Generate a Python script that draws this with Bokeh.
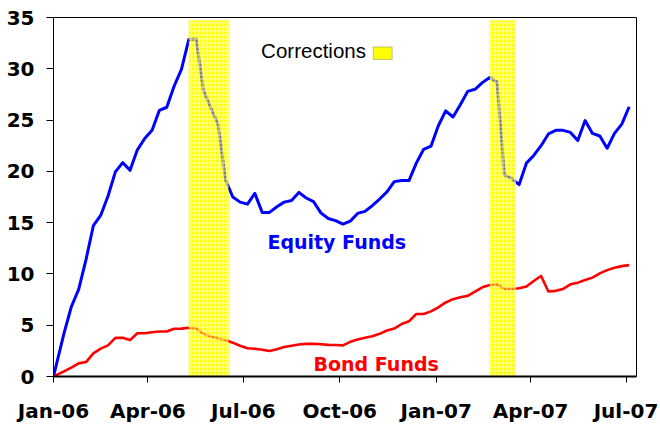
import pandas as pd
from bokeh.plotting import figure
from bokeh.models import (Range1d, FixedTicker, ColumnDataSource, Label,
                          BoxAnnotation, DatetimeTickFormatter)
from bokeh.embed import file_html
from bokeh.resources import INLINE

# ---- data -------------------------------------------------------------
start_date = "2006-01-01"          # series origin (cumulative flows = 0)
first_week = "2006-01-11"          # first weekly observation (Wednesday)
n_weeks = 78

equity = [0.0,
          4.2, 6.8, 8.5, 11.4, 14.7, 15.7, 17.6, 19.95, 20.85, 20.1,
          22.1, 23.2, 24.0, 25.95, 26.25, 28.3, 29.95, 32.85, 32.9, 27.9,
          26.2, 24.55, 19.2, 17.5, 17.0, 16.8, 17.85, 16.0, 16.0, 16.55,
          17.0, 17.15, 17.95, 17.4, 17.05, 15.95, 15.4, 15.2, 14.85, 15.15,
          15.9, 16.1, 16.65, 17.3, 18.0, 19.0, 19.1, 19.1, 20.8, 22.15,
          22.45, 24.45, 25.9, 25.3, 26.5, 27.8, 28.0, 28.65, 29.15, 28.7,
          19.65, 19.3, 18.7, 20.8, 21.55, 22.5, 23.65, 24.0, 24.0, 23.8,
          23.0, 24.95, 23.7, 23.45, 22.25, 23.7, 24.6, 26.3]

bond = [0.0,
        0.5, 0.87, 1.28, 1.41, 2.25, 2.72, 3.03, 3.77, 3.77, 3.55,
        4.22, 4.22, 4.32, 4.38, 4.38, 4.65, 4.67, 4.75, 4.7, 4.15,
        3.9, 3.7, 3.55, 3.3, 3.0, 2.75, 2.7, 2.6, 2.48, 2.65,
        2.88, 3.0, 3.12, 3.18, 3.19, 3.15, 3.08, 3.07, 3.03, 3.38,
        3.6, 3.77, 3.93, 4.16, 4.48, 4.67, 5.12, 5.38, 6.09, 6.09,
        6.35, 6.74, 7.22, 7.54, 7.73, 7.86, 8.28, 8.7, 8.92, 8.99,
        8.54, 8.54, 8.6, 8.77, 9.31, 9.8, 8.28, 8.35, 8.54, 8.99,
        9.15, 9.41, 9.64, 10.05, 10.37, 10.6, 10.76, 10.86]

band_start = ["2006-05-10", "2007-02-21"]
band_end = ["2006-06-17", "2007-03-18"]
band_top = [34.7, 34.7]

tick_dates = ["2006-01-01", "2006-04-01", "2006-07-01", "2006-10-01",
              "2007-01-01", "2007-04-01", "2007-07-01"]
tick_labels = ["Jan-06", "Apr-06", "Jul-06", "Oct-06", "Jan-07", "Apr-07", "Jul-07"]
y_ticks = [0, 5, 10, 15, 20, 25, 30, 35]

x_start, x_end = "2006-01-01", "2007-07-11"


def ms(d):
    return int(pd.Timestamp(d).timestamp() * 1000)


dates = [pd.Timestamp(start_date)] + list(pd.date_range(first_week, periods=n_weeks, freq="7D"))
src = ColumnDataSource(dict(date=dates, equity=equity, bond=bond))
band_src = ColumnDataSource(dict(left=pd.to_datetime(band_start), right=pd.to_datetime(band_end),
                                 top=band_top, bottom=[0] * len(band_top)))

FONT = "DejaVu Sans"

p = figure(width=660, height=425, x_axis_type="datetime", output_backend="svg",
           toolbar_location=None,
           x_range=Range1d(ms(x_start), ms(x_end)), y_range=Range1d(0, 35),
           min_border_left=53, min_border_right=24, min_border_top=17, min_border_bottom=46)

p.background_fill_color = "white"
p.border_fill_color = "white"
p.outline_line_color = "black"
p.outline_line_width = 1
p.xgrid.visible = False
p.ygrid.visible = False

# correction bands (under the lines)
p.quad(left="left", right="right", top="top", bottom="bottom", source=band_src,
       fill_color="#ffff00", fill_alpha=1.0, line_color=None,
       hatch_pattern="+", hatch_color="#ffffa8", hatch_scale=4, hatch_weight=1, hatch_alpha=1.0)

p.line("date", "equity", source=src, line_color="#0000ff", line_width=3, line_join="round")
p.line("date", "bond", source=src, line_color="#ff0000", line_width=2.6, line_join="round")

# translucent band overlay (lines appear grey / orange inside the corrections)
p.quad(left="left", right="right", top="top", bottom="bottom", source=band_src,
       fill_color="#ffff00", fill_alpha=0.5, line_color=None,
       hatch_pattern="+", hatch_color="#ffffa8", hatch_scale=4, hatch_weight=1, hatch_alpha=0.7)

# axes
for ax in (p.xaxis, p.yaxis):
    ax.axis_line_color = "black"
    ax.major_tick_line_color = "black"
    ax.minor_tick_line_color = None
    ax.major_tick_in = 0
    ax.major_label_text_font = FONT
    ax.major_label_text_font_size = "20px"
    ax.major_label_text_font_style = "bold"
    ax.major_label_text_color = "black"

p.xaxis.ticker = FixedTicker(ticks=[ms(d) for d in tick_dates])
p.xaxis.formatter = DatetimeTickFormatter(days="%b-%y", months="%b-%y", years="%b-%y")
p.xaxis.major_label_overrides = {ms(d): lab for d, lab in zip(tick_dates, tick_labels)}
p.xaxis.axis_line_width = 2
p.xaxis.major_tick_out = 6
p.xaxis.major_label_standoff = 16

p.yaxis.ticker = FixedTicker(ticks=y_ticks)
p.yaxis.major_tick_out = 7
p.yaxis.major_label_standoff = 12

# annotations
p.add_layout(Label(x=ms("2006-07-24"), y=13.1, text="Equity Funds", text_font=FONT,
                   text_font_size="19px", text_font_style="bold", text_color="#0000ff",
                   text_baseline="alphabetic"))
p.add_layout(Label(x=ms("2006-09-06"), y=1.25, text="Bond Funds", text_font=FONT,
                   text_font_size="19px", text_font_style="bold", text_color="#ff0000",
                   text_baseline="alphabetic"))
p.add_layout(Label(x=ms("2006-07-18"), y=31.8, text="Corrections", text_font="Liberation Sans",
                   text_font_size="20.5px", text_color="black", text_baseline="middle"))
p.add_layout(BoxAnnotation(left=ms("2006-11-02"), right=ms("2006-11-20"), top=32.13, bottom=30.91,
                           fill_color="#ffff00", fill_alpha=1.0, line_color="#404040", line_width=1))

open("out.html", "w").write(file_html(p, INLINE))
